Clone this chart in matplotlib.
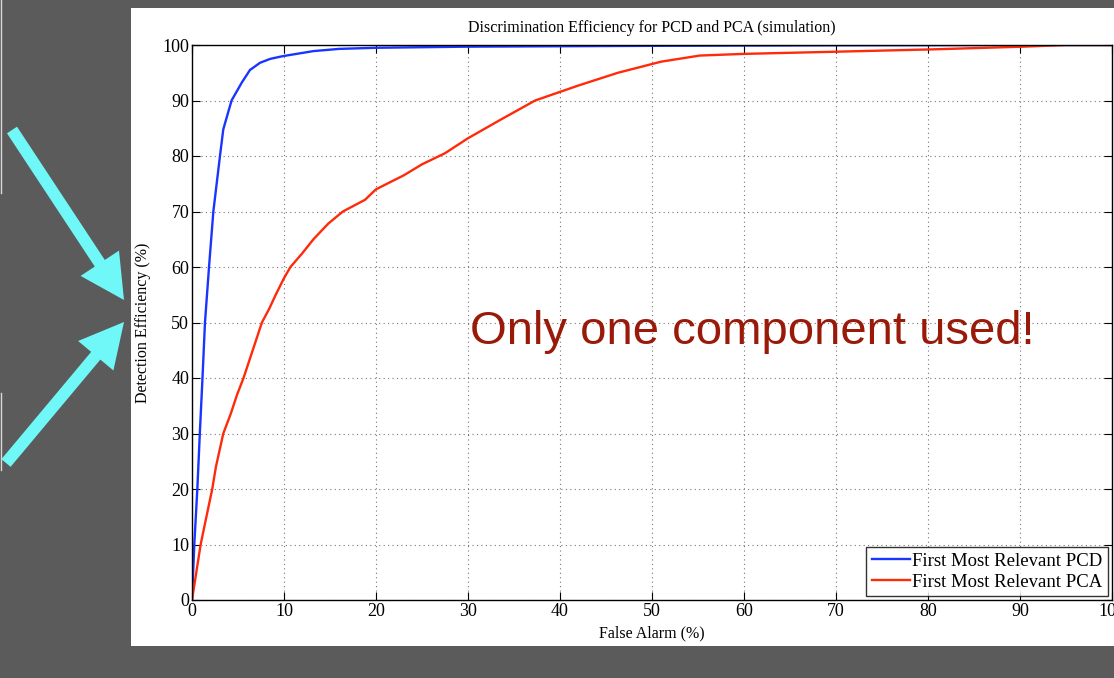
import matplotlib
matplotlib.use("Agg")
import matplotlib.pyplot as plt
import numpy as np
from matplotlib.patches import Rectangle, FancyArrow

plt.rcParams['font.family'] = ['Liberation Serif', 'DejaVu Serif']

# ROC points: false alarm (%) vs detection efficiency (%)
pcd_fa = [0, 0.25, 0.58, 0.85, 1.14, 1.41, 1.85, 2.32, 3.04, 3.4, 4.3, 5.4,
          6.3, 7.4, 8.5, 9.9, 13.2, 16, 20, 30, 50, 70, 90, 100]
pcd_de = [0, 10, 20, 30, 40, 50, 60, 70, 80, 84.8, 90, 93.2,
          95.5, 96.8, 97.5, 98.0, 98.9, 99.3, 99.5, 99.7, 99.85, 99.95, 100, 100]

pca_fa = [0, 0.94, 1.34, 2.2, 2.6, 3.4, 4.2, 4.9, 5.6, 6.6, 7.6, 8.4, 9.1,
          10.0, 10.7, 12.0, 13.2, 14.8, 16.4, 18.8, 20, 23, 25, 27.5, 30,
          33.5, 37.3, 42, 46.3, 51, 55.2, 60, 70.2, 80.2, 90.3, 95, 100]
pca_de = [0, 10, 13.2, 20, 24, 30, 33.5, 37, 40, 45, 50, 52.5, 55,
          58, 60, 62.5, 65, 67.8, 70, 72.1, 74, 76.5, 78.5, 80.5, 83.2,
          86.5, 90, 92.7, 95, 97, 98.1, 98.4, 98.8, 99.2, 99.7, 100, 100]

ticks = [0, 10, 20, 30, 40, 50, 60, 70, 80, 90, 100]

fig = plt.figure(figsize=(11.14, 6.78), dpi=100)
fig.patch.set_facecolor('#5b5b5b')

# overlay in pixel units for the slide decorations
over = fig.add_axes([0, 0, 1, 1], zorder=0)
over.set_xlim(0, 1114)
over.set_ylim(678, 0)
over.axis('off')
over.add_patch(Rectangle((131, 8), 990, 638, facecolor='white', edgecolor='none'))
over.plot([0.7, 0.7], [0, 193], color='#d8d8d8', lw=1)
over.plot([0.7, 0.7], [393, 470], color='#d8d8d8', lw=1)
for x0, y0, x1, y1 in [(12, 130, 124, 300), (6, 463, 124, 322)]:
    over.add_patch(FancyArrow(x0, y0, x1 - x0, y1 - y0, width=12, head_width=46,
                              head_length=44, length_includes_head=True,
                              color='#70f8f8', lw=0))

ax = fig.add_axes([192 / 1114, 78 / 678, 920 / 1114, 555 / 678], zorder=1)
ax.plot(pcd_fa, pcd_de, color='#1a35ff', lw=1.7, label='First Most Relevant PCD')
ax.plot(pca_fa, pca_de, color='#ff2a0a', lw=1.7, label='First Most Relevant PCA')

ax.set_xlim(0, 100)
ax.set_ylim(0, 100)
ax.set_xticks(ticks)
ax.set_yticks(ticks)
ax.tick_params(direction='in', top=True, right=True, length=6, width=0.8,
               labelsize=13, pad=2, colors='black')
ax.grid(True, linestyle=(0, (1, 3)), color='#777777', lw=0.8)
for s in ax.spines.values():
    s.set_linewidth(1.0)

ax.set_title('Discrimination Efficiency for PCD and PCA (simulation)', fontsize=11.5, pad=9)
ax.set_xlabel('False Alarm (%)', fontsize=11.5, labelpad=4)
ax.set_ylabel('Detection Efficiency (%)', fontsize=11.5, labelpad=8)

leg = ax.legend(loc='lower right', fontsize=13.5, frameon=True, fancybox=False,
                borderaxespad=0.2, handlelength=2.0, handletextpad=0.15,
                borderpad=0.3, labelspacing=0.2)
leg.get_frame().set_edgecolor('black')
leg.get_frame().set_linewidth(1.0)

ax.text(0.609, 0.483, 'Only one component used!', transform=ax.transAxes,
        fontsize=34, color='#9a1a0a', family='Liberation Sans',
        ha='center', va='center')

fig.savefig('out.png', dpi=100, facecolor=fig.get_facecolor())
